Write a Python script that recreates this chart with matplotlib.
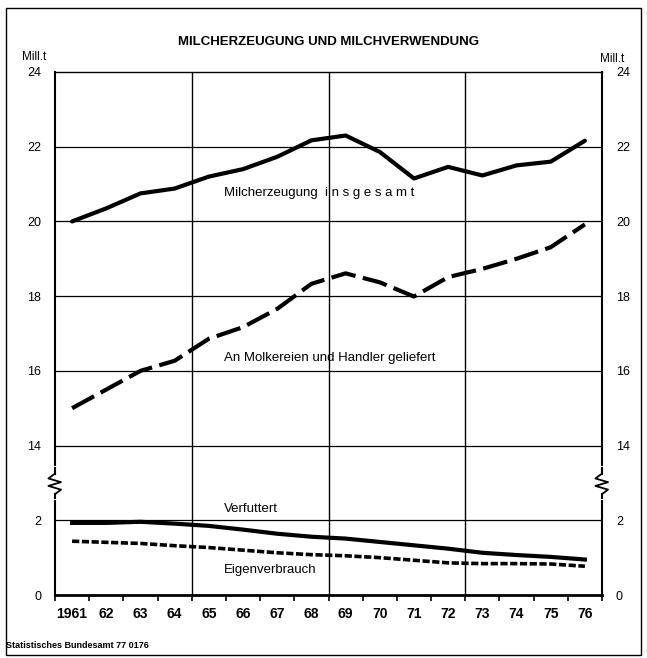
import matplotlib
matplotlib.use('Agg')
import matplotlib.pyplot as plt
import numpy as np

plt.rcParams['font.family'] = ['Liberation Sans', 'DejaVu Sans']

years = ['1961', '62', '63', '64', '65', '66', '67', '68',
         '69', '70', '71', '72', '73', '74', '75', '76']
erzeugung = [20.0, 20.35, 20.75, 20.88, 21.2, 21.4, 21.73, 22.17,
             22.3, 21.86, 21.15, 21.46, 21.23, 21.5, 21.6, 22.16]
molkereien = [15.0, 15.5, 16.0, 16.27, 16.86, 17.17, 17.66, 18.33,
              18.61, 18.37, 17.99, 18.51, 18.73, 19.0, 19.31, 19.92]
verfuttert = [1.93, 1.93, 1.96, 1.91, 1.85, 1.75, 1.64, 1.56,
              1.51, 1.42, 1.33, 1.24, 1.13, 1.07, 1.02, 0.95]
eigen = [1.44, 1.41, 1.38, 1.32, 1.27, 1.2, 1.13, 1.08,
         1.05, 1.0, 0.93, 0.86, 0.84, 0.84, 0.83, 0.77]
ytick_vals = [0, 2, 14, 16, 18, 20, 22, 24]


# the axis is broken between 2 and 14, the gap counts as 2 units
def brk(vals):
    return [v if v <= 2 else v - 10 for v in vals]


fig = plt.figure(figsize=(6.47, 6.58), dpi=100)
ax = fig.add_axes([55/647, 1-595/658, 547/647, 523/658])

x = np.arange(len(years)) + 0.5

ax.plot(x, brk(erzeugung), color='black', lw=3.0, solid_capstyle='round')
ax.plot(x, brk(molkereien), color='black', lw=3.0, dashes=(6, 1.8))
ax.plot(x, brk(verfuttert), color='black', lw=3.0)
ax.plot(x, brk(eigen), color='black', lw=2.6, dashes=(2, 0.7))

for v in [2, 14, 16, 18, 20, 22]:
    ax.axhline(brk([v])[0], color='black', lw=0.9)
for v in [4, 8, 12]:
    ax.axvline(v, color='black', lw=1.0)

ax.set_xlim(0, 16)
ax.set_ylim(0, 14)
ax.set_yticks(brk(ytick_vals))
ax.set_yticklabels([str(v) for v in ytick_vals], fontsize=9)
ax.tick_params(axis='y', length=0, labelright=True, pad=10)

ax.set_xticks(np.arange(17))
ax.set_xticklabels([])
ax.set_xticks(x, minor=True)
ax.set_xticklabels(years, minor=True, fontsize=10, fontweight='bold')
ax.tick_params(axis='x', which='major', direction='out', length=4, width=1.2)
ax.tick_params(axis='x', which='minor', length=0, pad=9)

ax.spines['left'].set_linewidth(1.5)
ax.spines['right'].set_linewidth(1.5)
ax.spines['bottom'].set_linewidth(2.0)
ax.spines['top'].set_linewidth(1.0)

# zigzag break marks on both vertical axes
yt = ax.get_yaxis_transform()
zx = np.array([0, -0.012, 0.011, -0.012, 0.011, 0])
zy = np.array([3.25, 3.12, 3.02, 2.92, 2.82, 2.7])
for side in [0, 1]:
    ax.plot([side, side], [2.6, 3.4], color='white', lw=3, transform=yt,
            clip_on=False, zorder=5)
    ax.plot([side, side], [3.25, 3.4], color='black', lw=1.5, transform=yt,
            clip_on=False, zorder=6)
    ax.plot([side, side], [2.6, 2.7], color='black', lw=1.5, transform=yt,
            clip_on=False, zorder=6)
    ax.plot(side + zx, zy, color='black', lw=1.3, transform=yt,
            clip_on=False, zorder=6)

ax.text(4.95, brk([20.75])[0], 'Milcherzeugung  i n s g e s a m t',
        fontsize=9.5, va='center', ha='left')
ax.text(4.95, brk([16.35])[0], 'An Molkereien und Handler geliefert',
        fontsize=9.5, va='center', ha='left')
ax.text(4.95, 2.31, 'Verfuttert', fontsize=9.5, va='center', ha='left')
ax.text(4.95, 0.68, 'Eigenverbrauch', fontsize=9.5, va='center', ha='left')

fig.text(0.5 * (55 + 602) / 647, 1 - 42/658, 'MILCHERZEUGUNG UND MILCHVERWENDUNG',
         fontsize=9.5, fontweight='bold', ha='center', va='center')
fig.text(22/647, 1 - 57/658, 'Mill.t', fontsize=8.5, ha='left', va='center')
fig.text(600/647, 1 - 59/658, 'Mill.t', fontsize=8.5, ha='left', va='center')
fig.text(6/647, 1 - 645/658, 'Statistisches Bundesamt 77 0176',
         fontsize=6.5, fontweight='bold', ha='left', va='center')

# frame round the whole chart
fig.add_artist(plt.Rectangle((6/647, 1 - 655/658), 635/647, 647/658,
                             transform=fig.transFigure, fill=False,
                             edgecolor='black', lw=1.0))

plt.savefig('out.png', dpi=100)
